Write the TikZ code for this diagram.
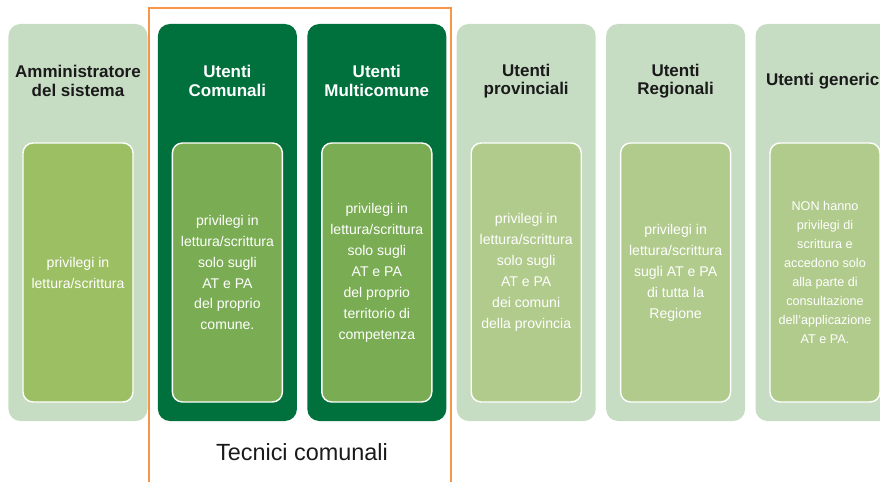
\documentclass[tikz,border=0pt]{standalone}
\usepackage{fontspec}
\setmainfont{Liberation Sans}
\usetikzlibrary{positioning}
\definecolor{palegreen}{HTML}{C6DDC3}
\definecolor{darkgreen}{HTML}{00703C}
\definecolor{olivegreen}{HTML}{9DBF63}
\definecolor{midgreen}{HTML}{7AAD53}
\definecolor{sagegreen}{HTML}{B1CB8D}
\definecolor{frameorange}{HTML}{F79646}
\definecolor{darktext}{HTML}{1A1A1A}

\begin{document}
\begin{tikzpicture}[x=0.03cm,y=-0.03cm,
  column/.style={rectangle,rounded corners=0.36cm,minimum width=4.17cm,minimum height=11.91cm,inner sep=0pt},
  inbox/.style={rectangle,rounded corners=0.3cm,draw=white,line width=1.2pt,minimum width=3.3cm,minimum height=7.77cm,inner sep=0pt,align=center,text=white,font=\fontsize{12}{17.9}\selectfont},
  title/.style={align=center,font=\fontsize{14.5}{15.5}\selectfont\bfseries}]
% \draw[help lines] (0,0) grid (880,481);
\useasboundingbox (0,0) rectangle (880,481);
\clip (0,0) rectangle (880,481);
%
\node (c1) [column,fill=palegreen] at (78,222.5) {};
\node (c2) [column,fill=darkgreen] at (227.4,222.5) {};
\node (c3) [column,fill=darkgreen] at (376.8,222.5) {};
\node (c4) [column,fill=palegreen] at (526.2,222.5) {};
\node (c5) [column,fill=palegreen] at (675.6,222.5) {};
\node (c6) [column,fill=palegreen] at (825,222.5) {};
%
\node (t1) [title,text=darktext] at (78,81) {Amministratore\\del sistema};
\node (t2) [title,text=white] at (227.4,81) {Utenti\\Comunali};
\node (t3) [title,text=white] at (376.8,81) {Utenti\\Multicomune};
\node (t4) [title,text=darktext] at (526.2,81) {Utenti\\provinciali};
\node (t5) [title,text=darktext] at (675.6,81) {Utenti\\Regionali};
\node (t6) [title,text=darktext] at (825,81) {Utenti generici};
%
\node (d1) [inbox,fill=olivegreen] at (78,272.5) {privilegi in\\lettura/scrittura};
\node (d2) [inbox,fill=midgreen] at (227.4,272.5) {privilegi in\\lettura/scrittura\\solo sugli\\AT e PA\\del proprio\\comune.};
\node (d3) [inbox,fill=midgreen] at (376.8,272.5) {privilegi in\\lettura/scrittura\\solo sugli\\AT e PA\\del proprio\\territorio di\\competenza};
\node (d4) [inbox,fill=sagegreen] at (526.2,272.5) {privilegi in\\lettura/scrittura\\solo sugli\\AT e PA\\dei comuni\\della provincia};
\node (d5) [inbox,fill=sagegreen] at (675.6,272.5) {privilegi in\\lettura/scrittura\\sugli AT e PA\\di tutta la\\Regione};
\node (d6) [inbox,fill=sagegreen,font=\fontsize{10.8}{16.2}\selectfont] at (825,272.5) {NON hanno\\privilegi di\\scrittura e\\accedono solo\\alla parte di\\consultazione\\dell'applicazione\\AT e PA.};
%
\node (tc) [text=darktext,font=\fontsize{20}{24}\selectfont] at (302,452) {Tecnici comunali};
\draw[frameorange,line width=1.8pt] (149,500) -- (149,8) -- (451,8) -- (451,500);
\end{tikzpicture}
\end{document}
